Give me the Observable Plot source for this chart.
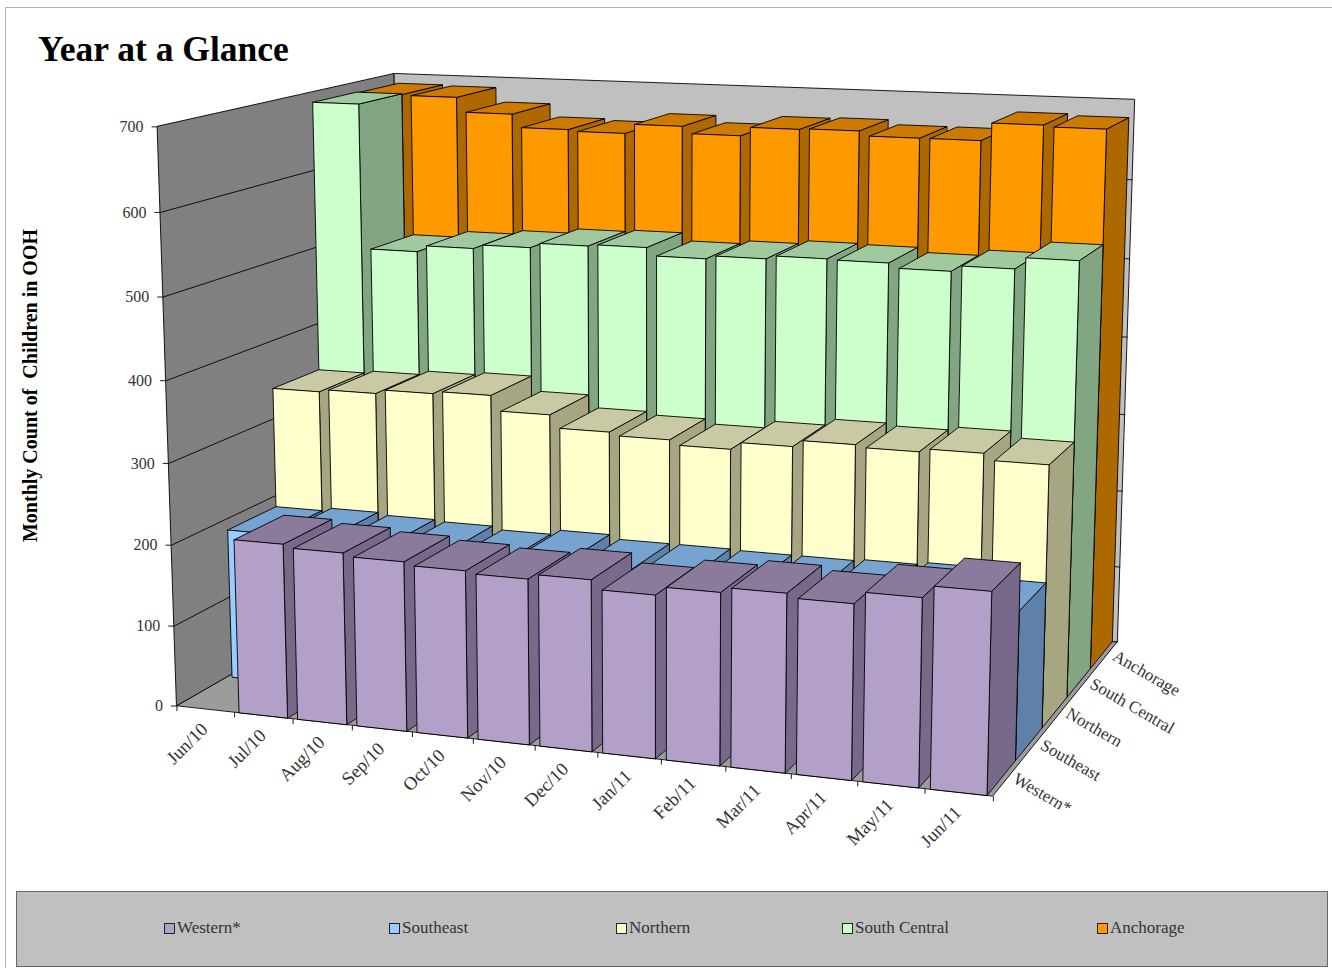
<!DOCTYPE html>
<html>
<head>
<meta charset="utf-8">
<script src="https://cdn.jsdelivr.net/npm/d3@7"></script>
<script src="https://cdn.jsdelivr.net/npm/@observablehq/plot@0.6"></script>
<style>
html,body{margin:0;padding:0;background:#fff;overflow:hidden;height:968px}
body{position:relative;font-family:"Liberation Serif",serif}
#frame{position:absolute;left:5px;top:7px;right:-5px;bottom:-5px;border-top:1.5px solid #b0b0b0;border-left:1.5px solid #b0b0b0}
h1{position:absolute;left:38px;top:27px;margin:0;font-size:35.5px;line-height:44px;font-weight:bold;color:#000}
#chart{position:absolute;left:0;top:70px}
#chart svg{display:block}
#legend{position:absolute;left:16px;top:891px;width:1310px;height:74px;background:#c0c0c0;border:1px solid #666}
#legend .it{position:absolute;top:26px;font-size:17px;line-height:20px;color:#333;white-space:nowrap}
#legend .sw{display:inline-block;width:9px;height:9px;border:1px solid #222;margin-right:2px;vertical-align:-0.5px}
</style>
</head>
<body>
<div id="frame"></div>
<h1>Year at a Glance</h1>
<div id="chart"></div>
<div id="legend"></div>
<script>
const months = ["Jun/10","Jul/10","Aug/10","Sep/10","Oct/10","Nov/10","Dec/10","Jan/11","Feb/11","Mar/11","Apr/11","May/11","Jun/11"];
const series = ["Western*","Southeast","Northern","South Central","Anchorage"];
const western      = [null,213,209,205,201,198,204,193,203,209,204,218,232];
const southeast    = [188,192,189,187,183,189,184,184,183,183,185,188,176];
const northern     = [341,344,349,352,333,317,313,307,316,324,321,325,317];
const southCentral = [688,503,511,516,522,524,514,518,522,521,515,522,536];
const anchorage    = [687,686,667,650,648,660,651,662,663,657,657,679,677];
const valueTicks = [0,100,200,300,400,500,600,700];
const frontColors = ["#b3a0c8","#99ccff","#ffffcc","#ccffcc","#ff9900"];
const sideColors  = ["#76698a","#5f80a8","#a6a682","#82a682","#ad6800"];
const topColors   = ["#8a7a9c","#76a3cf","#c9c9a3","#a0c9a0","#cc7a00"];
const legendX = [164,389,616,842,1097];

const table = [western,southeast,northern,southCentral,anchorage];
const cellGap = 0.085;

// Camera: a 3-D to page projection fitted to the corners of the chart box
const calib = [
  [0,0,0,177,705],[0,0,700,158,125],[1,0,0,993,796],[1,1,0,1118,643],
  [0,1,700,393,74],[1,1,700,1135,100],[1/13,0,0,234,713],[12/13,0,0,923,792],
  [.995,.2,0,1017,760],[.995,.4,0,1043,725],[.995,.6,0,1068,695],[.995,.8,0,1092,668]
];
function fitCamera(pts){
  const n=11, A=Array.from({length:n},()=>new Array(n+1).fill(0));
  const add=(r,b)=>{for(let i=0;i<n;i++){for(let k=0;k<n;k++)A[i][k]+=r[i]*r[k];A[i][n]+=r[i]*b;}};
  for(const [u,v,w0,x0,y0] of pts){
    const w=w0/700,x=x0/1000,y=y0/1000;
    add([u,v,w,1,0,0,0,0,-x*u,-x*v,-x*w],x);
    add([0,0,0,0,u,v,w,1,-y*u,-y*v,-y*w],y);
  }
  for(let c=0;c<n;c++){
    let p=c;for(let r=c+1;r<n;r++)if(Math.abs(A[r][c])>Math.abs(A[p][c]))p=r;
    [A[c],A[p]]=[A[p],A[c]];
    for(let r=0;r<n;r++){if(r===c)continue;const f=A[r][c]/A[c][c];for(let k=c;k<=n;k++)A[r][k]-=f*A[c][k];}
  }
  return A.map((row,i)=>row[n]/row[i]);
}
const P = fitCamera(calib);
function proj(u,v,val){
  const w=val/700, d=P[8]*u+P[9]*v+P[10]*w+1;
  return [1000*(P[0]*u+P[1]*v+P[2]*w+P[3])/d, 1000*(P[4]*u+P[5]*v+P[6]*w+P[7])/d];
}

// A quad as two rows of an area mark
let qid=0;
function quad(list,pts,fill){
  const id=qid++,[a,b,c,d]=pts;
  list.push({id,fill,x1:a[0],y1:a[1],x2:d[0],y2:d[1]});
  list.push({id,fill,x1:b[0],y1:b[1],x2:c[0],y2:c[1]});
}
const box=[];
const vmax=700;
quad(box,[proj(0,0,0),proj(0,1,0),proj(1,1,0),proj(1,0,0)],"#9c9c9c");
quad(box,[proj(0,0,0),proj(0,0,vmax),proj(0,1,vmax),proj(0,1,0)],"#808080");
quad(box,[proj(0,1,0),proj(0,1,vmax),proj(1,1,vmax),proj(1,1,0)],"#c0c0c0");

const grid=[];
for(const t of valueTicks.slice(1,-1)){
  const a=proj(0,0,t),b=proj(0,1,t),c=proj(1,1,t);
  grid.push({x1:a[0],y1:a[1],x2:b[0],y2:b[1]},{x1:b[0],y1:b[1],x2:c[0],y2:c[1]});
}

const bars=[];
for(let j=series.length-1;j>=0;j--){
  table[j].forEach((val,i)=>{
    if(val==null)return;
    const u0=(i+cellGap)/13,u1=(i+1-cellGap)/13,v0=j/5,v1=(j+1)/5;
    quad(bars,[proj(u1,v0,0),proj(u1,v0,val),proj(u1,v1,val),proj(u1,v1,0)],sideColors[j]);
    quad(bars,[proj(u0,v0,val),proj(u0,v1,val),proj(u1,v1,val),proj(u1,v0,val)],topColors[j]);
    quad(bars,[proj(u0,v0,0),proj(u0,v0,val),proj(u1,v0,val),proj(u1,v0,0)],frontColors[j]);
  });
}

const yTicks=valueTicks.map(t=>{const p=proj(0,0,t);return {t,x:p[0],y:p[1]};});
const xTicks=d3.range(14).map(i=>{const p=proj(i/13,0,0);return {x:p[0],y:p[1]};});
const xLabels=months.map((m,i)=>{const p=proj((i+.5)/13,0,0);return {m,x:p[0],y:p[1]};});
const zLabels=series.map((s,j)=>{const p=proj(1,(j+.5)/5,0);return {s,x:p[0],y:p[1]};});

const areaOpts={x1:"x1",y1:"y1",x2:"x2",y2:"y2",z:"id",fill:"fill",stroke:"#000",strokeWidth:0.9,curve:"linear"};
const plot=Plot.plot({
  width:1332,height:820,margin:0,
  x:{domain:[0,1332],range:[0,1332],axis:null},
  y:{domain:[70,890],range:[0,820],axis:null},
  color:{type:"identity"},
  style:{fontFamily:'"Liberation Serif",serif',background:"transparent",overflow:"visible"},
  marks:[
    Plot.area(box,areaOpts),
    Plot.link(grid,{x1:"x1",y1:"y1",x2:"x2",y2:"y2",stroke:"#000",strokeWidth:0.9,curve:"linear"}),
    Plot.area(bars,areaOpts),
    Plot.link(yTicks,{x1:d=>d.x-6,y1:"y",x2:"x",y2:"y",stroke:"#000",strokeWidth:0.9}),
    Plot.text(yTicks,{x:d=>d.x-14,y:"y",text:d=>String(d.t),textAnchor:"end",fontSize:16,fill:"#333"}),
    Plot.link(xTicks,{x1:"x",y1:"y",x2:"x",y2:d=>d.y+5,stroke:"#000",strokeWidth:0.9}),
    Plot.text(xLabels,{x:d=>d.x-1,y:d=>d.y+17,text:"m",rotate:-45,textAnchor:"end",fontSize:18.5,fill:"#333"}),
    Plot.text(zLabels,{x:d=>d.x+7,y:d=>d.y-1,text:"s",rotate:30,textAnchor:"start",fontSize:17,fill:"#333"}),
    Plot.text(["Monthly Count of  Children in OOH"],{frameAnchor:"left",textAnchor:"middle",rotate:-90,dx:30,dy:-95,fontSize:20,fontWeight:"bold",fill:"#000"})
  ]
});
document.getElementById("chart").appendChild(plot);

const legend=document.getElementById("legend");
series.forEach((s,j)=>{
  const it=document.createElement("div");
  it.className="it";
  it.style.left=(legendX[j]-17)+"px";
  const sw=document.createElement("span");
  sw.className="sw";sw.style.background=frontColors[j];
  it.appendChild(sw);
  it.appendChild(document.createTextNode(s));
  legend.appendChild(it);
});
</script>
</body>
</html>
